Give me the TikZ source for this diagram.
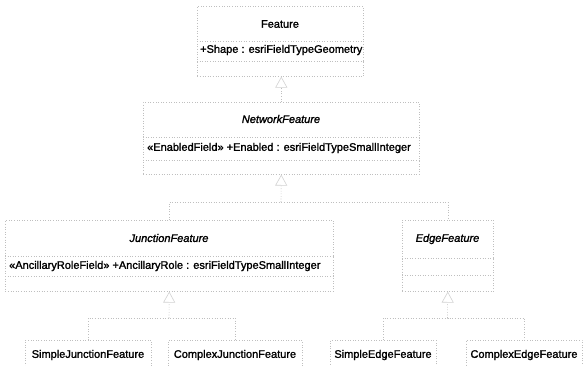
\documentclass[tikz,border=0pt]{standalone}
\usepackage{fontspec}
\setmainfont{Liberation Sans}[FakeBold=1.5]
\usetikzlibrary{arrows.meta}

\begin{document}
\begin{tikzpicture}[x=1pt, y=-1pt,
  faint/.style={draw=gray!50, line width=0.6pt, dash pattern=on 0.8pt off 1.8pt},
  classbox/.style={faint, rectangle, inner sep=0pt, anchor=north west},
  txt/.style={inner sep=0pt, font=\fontsize{11}{13}\selectfont},
  abstract/.style={txt, font=\fontsize{11}{13}\selectfont\itshape},
  attr/.style={txt, anchor=west},
  wire/.style={faint},
  gen/.style={faint, -{Triangle[open, length=11pt, width=12pt, color=gray!35]}}
]
\fill[white] (0,0) rectangle (584,365);
\useasboundingbox (0,0) rectangle (584,365);
\clip (0,0) rectangle (584,365);

% Feature
\node[classbox, minimum width=166pt, minimum height=70pt] (feat) at (197,6) {};
\node[txt] (featT) at (280,24) {Feature};
\draw[faint] (feat.west |- 0,41) -- (feat.east |- 0,41);
\node[attr] (featA) at (200,50) {+Shape : esriFieldTypeGeometry};
\draw[faint] (feat.west |- 0,61) -- (feat.east |- 0,61);

% NetworkFeature
\node[classbox, minimum width=276pt, minimum height=72pt] (net) at (143,102) {};
\node[abstract] (netT) at (281,119) {NetworkFeature};
\draw[faint] (net.west |- 0,137) -- (net.east |- 0,137);
\node[attr] (netA) at (147,148) {«EnabledField» +Enabled : esriFieldTypeSmallInteger};
\draw[faint] (net.west |- 0,160) -- (net.east |- 0,160);

% JunctionFeature
\node[classbox, minimum width=328pt, minimum height=71pt] (junc) at (5,220) {};
\node[abstract] (juncT) at (169,238) {JunctionFeature};
\draw[faint] (junc.west |- 0,256) -- (junc.east |- 0,256);
\node[attr] (juncA) at (9,266) {«AncillaryRoleField» +AncillaryRole : esriFieldTypeSmallInteger};
\draw[faint] (junc.west |- 0,276) -- (junc.east |- 0,276);

% EdgeFeature
\node[classbox, minimum width=91pt, minimum height=71pt] (edge) at (402,220) {};
\node[abstract] (edgeT) at (447.5,239) {EdgeFeature};
\draw[faint] (edge.west |- 0,258) -- (edge.east |- 0,258);
\draw[faint] (edge.west |- 0,275) -- (edge.east |- 0,275);

% Concrete classes
\node[classbox, minimum width=126pt, minimum height=40pt] (sj) at (25,340) {};
\node[txt] (sjT) at (88,355) {SimpleJunctionFeature};
\node[classbox, minimum width=134pt, minimum height=40pt] (cj) at (168,340) {};
\node[txt] (cjT) at (235,355) {ComplexJunctionFeature};
\node[classbox, minimum width=106pt, minimum height=40pt] (se) at (330,340) {};
\node[txt] (seT) at (383,355) {SimpleEdgeFeature};
\node[classbox, minimum width=116pt, minimum height=40pt] (ce) at (466,340) {};
\node[txt] (ceT) at (524,355) {ComplexEdgeFeature};

% Generalizations
\draw[gen] (net.north) -- (net.north |- feat.south);

\coordinate (nt) at (281,202);
\draw[wire] (junc.north) |- (nt) -| (edge.north);
\draw[gen] (nt) -- (net.south);

\coordinate (jt) at (169,318);
\draw[wire] (sj.north) |- (jt) -| (cj.north);
\draw[gen] (jt) -- (junc.south);

\coordinate (et) at (447.5,318);
\draw[wire] (se.north) |- (et) -| (ce.north);
\draw[gen] (et) -- (edge.south);
\end{tikzpicture}
\end{document}
